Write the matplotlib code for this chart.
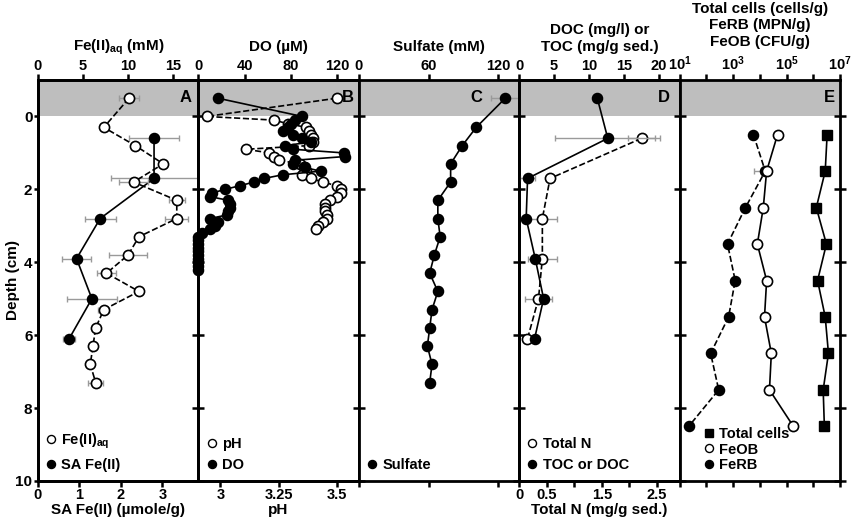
import matplotlib
matplotlib.use('Agg')
import matplotlib.pyplot as plt
from matplotlib.lines import Line2D

plt.rcParams['font.family'] = ['Liberation Sans', 'DejaVu Sans']
plt.rcParams['font.weight'] = 'bold'
plt.rcParams['mathtext.fontset'] = 'custom'
plt.rcParams['mathtext.rm'] = 'Liberation Sans:bold'
plt.rcParams['mathtext.it'] = 'Liberation Sans:bold'
plt.rcParams['mathtext.bf'] = 'Liberation Sans:bold'

# ---- panel A: Fe(II)
fe_depth = [-0.5, 0.3, 0.8, 1.3, 1.8, 2.3, 2.8, 3.3, 3.8, 4.3, 4.8, 5.3, 5.8, 6.3, 6.8, 7.3]
fe_aq = [10.1, 7.3, 10.8, 13.9, 10.6, 15.4, 15.4, 11.2, 10.0, 7.6, 11.2, 7.3, 6.4, 6.1, 5.8, 6.4]
fe_aq_err = [1.1, 0, 0, 0, 1.6, 0.9, 1.3, 0, 2.1, 1.1, 0, 0.6, 0, 0, 0, 0.8]
sa_depth = [0.6, 1.7, 2.8, 3.9, 5.0, 6.1]
sa_fe = [2.8, 2.8, 1.5, 0.93, 1.3, 0.75]
sa_err = [0.6, 1.05, 0.37, 0.35, 0.6, 0.15]

# ---- panel B: DO and pH
do_depth = [-0.5, 0.0, 0.1, 0.2, 0.3, 0.4, 0.5, 0.6, 0.7, 0.8, 0.9, 1.0, 1.1, 1.2, 1.3,
            1.4, 1.5, 1.6, 1.7, 1.8, 1.9, 2.0, 2.1, 2.2, 2.3, 2.4, 2.5, 2.6, 2.7, 2.8,
            2.9, 3.0, 3.1, 3.2, 3.3, 3.4, 3.5, 3.6, 3.7, 3.8, 3.9, 4.0, 4.1, 4.2]
do_um = [17, 90, 84, 80, 78, 73, 82, 90, 98, 75, 82, 126, 127, 84, 82,
         92, 106, 73, 57, 48, 36, 23, 12, 10, 26, 27, 27, 26, 25, 10,
         17, 14, 10, 3, 0, 0, 0, 0, 0, 0, 0, 0, 0, 0]
ph_depth = [-0.5, 0.0, 0.1, 0.2, 0.3, 0.4, 0.5, 0.6, 0.7, 0.8, 0.9, 1.0, 1.1, 1.2, 1.3,
            1.4, 1.5, 1.6, 1.7, 1.8, 1.9, 2.0, 2.1, 2.2, 2.3, 2.4, 2.5, 2.6, 2.7, 2.8,
            2.9, 3.0, 3.1]
ph = [3.50, 2.94, 3.23, 3.29, 3.37, 3.38, 3.39, 3.40, 3.40, 3.38, 3.11, 3.21, 3.23, 3.25, 3.34,
      3.36, 3.37, 3.35, 3.39, 3.44, 3.50, 3.52, 3.52, 3.50, 3.47, 3.45, 3.45, 3.45, 3.46, 3.46,
      3.44, 3.42, 3.41]

# ---- panel C: sulfate
so4_depth = [-0.5, 0.3, 0.8, 1.3, 1.8, 2.3, 2.8, 3.3, 3.8, 4.3, 4.8, 5.3, 5.8, 6.3, 6.8, 7.3]
so4 = [126, 101, 89, 79, 79, 68, 68, 70, 65, 61, 68, 63, 61, 59, 63, 61]
so4_err = [12, 0, 0, 0, 0, 0, 0, 0, 0, 0, 0, 0, 0, 0, 0, 0]

# ---- panel D: TOC / DOC and total N
toc_depth = [-0.5, 0.6, 1.7, 2.8, 3.9, 5.0, 6.1]
toc = [11.2, 12.7, 1.2, 1.0, 2.3, 3.5, 2.2]
toc_err = [0, 7.5, 1.1, 0, 0, 0, 0]
tn_depth = [0.6, 1.7, 2.8, 3.9, 5.0, 6.1]
total_n = [2.22, 0.56, 0.42, 0.42, 0.35, 0.15]
tn_err = [0.24, 0, 0.26, 0.26, 0.24, 0]

# ---- panel E: cell counts
cell_depth = [0.5, 1.5, 2.5, 3.5, 4.5, 5.5, 6.5, 7.5, 8.5]
ferb = [5.8e3, 1.6e4, 2.9e3, 6.2e2, 1.2e3, 6.8e2, 1.45e2, 2.9e2, 2.2e1]
feob = [4.6e4, 1.8e4, 1.35e4, 8.1e3, 1.8e4, 1.5e4, 2.7e4, 2.3e4, 1.8e5]
feob_err_lo = [0, 1.17e4, 0, 0, 0, 0, 0, 0, 0]
total_cells = [3.3e6, 2.8e6, 1.3e6, 3.1e6, 1.45e6, 2.8e6, 3.7e6, 2.35e6, 2.6e6]

GRAY = '#bebebe'
ECOL = '#9a9a9a'
MS = 7.3
FS = 10.5

fig = plt.figure(figsize=(8.51, 5.18), dpi=100)
W, H = 851.0, 518.0
x0, pw = 38.0, 160.4
ybot, ph_px = 37.0, 401.0


def panel(i):
    ax = fig.add_axes([(x0 + i * pw) / W, ybot / H, pw / W, ph_px / H])
    ax.axhspan(-1, 0, color=GRAY, lw=0, zorder=0)
    ax.set_ylim(10, -1)
    ax.set_yticks([0, 2, 4, 6, 8, 10])
    ax.tick_params(axis='y', direction='inout', length=8, width=1.8,
                   labelleft=(i == 0), labelsize=FS + 0.5, pad=1)
    if i == 0:
        ax.tick_params(axis='y', direction='out', length=3)
        ax.set_ylabel('Depth (cm)', fontsize=FS + 0.5, fontweight='bold')
        ax.yaxis.set_label_coords(-0.115, 0.5)
    if i == 4:
        ax.tick_params(axis='y', right=True)
    for s in ax.spines.values():
        s.set_linewidth(2.0)
    return ax


def style_x(a):
    a.tick_params(axis='x', direction='out', length=4, width=1.8,
                  labelsize=FS, pad=1)
    for s in a.spines.values():
        s.set_linewidth(2.0)


def letter(ax, t, x=0.955):
    ax.text(x, 0.975, t, transform=ax.transAxes, ha='right', va='top',
            fontsize=FS + 1.5, fontweight='bold', zorder=10)


def legend(ax, handles, labels, x=0.0, spacing=0.5):
    ax.legend(handles, labels, loc='lower left', bbox_to_anchor=(x, 0.0),
              frameon=False, fontsize=FS, handlelength=0.6, handletextpad=0.4,
              borderpad=0.2, borderaxespad=0.4, labelspacing=spacing)


def hnd(fc, marker='o'):
    return Line2D([], [], ls='none', marker=marker, ms=MS - 1.5, mfc=fc,
                  mec='black', mew=1.0)


eb = dict(fmt='none', ecolor=ECOL, elinewidth=1.0, capsize=2.5, capthick=1.0, zorder=2)

# ---------------- A
ax = panel(0)
axt = ax.twiny()
ax.set_xlim(0, 3.87)
axt.set_xlim(0, 17.8)
ax.set_xticks([0, 1, 2, 3])
axt.set_xticks([0, 5, 10, 15])
style_x(ax)
style_x(axt)
ax.set_xlabel('SA Fe(II) (µmole/g)', fontsize=FS + 0.5, fontweight='bold', labelpad=1)
axt.set_xlabel(r'Fe(II)$_{\rm aq}$ (mM)', fontsize=FS + 0.5, fontweight='bold', labelpad=6)
ax.errorbar(sa_fe, sa_depth, xerr=sa_err, **eb)
ax.plot(sa_fe, sa_depth, '-', color='black', lw=1.2, marker='o', ms=MS,
        mfc='black', mec='black', zorder=3)
axt.errorbar(fe_aq, fe_depth, xerr=fe_aq_err, **eb)
axt.plot(fe_aq, fe_depth, '--', color='black', lw=1.2, marker='o', ms=MS,
         mfc='white', mec='black', mew=1.2, zorder=3)
letter(ax, 'A')
legend(ax, [hnd('white'), hnd('black')], [r'Fe(II)$_{\rm aq}$', 'SA Fe(II)'])

# ---------------- B
ax = panel(1)
axt = ax.twiny()
ax.set_xlim(2.905, 3.595)
axt.set_xlim(0, 139)
ax.set_xticks([3, 3.25, 3.5])
ax.set_xticklabels(['3', '3.25', '3.5'])
axt.set_xticks([0, 40, 80, 120])
style_x(ax)
style_x(axt)
ax.set_xlabel('pH', fontsize=FS + 0.5, fontweight='bold', labelpad=1)
axt.set_xlabel('DO (µM)', fontsize=FS + 0.5, fontweight='bold', labelpad=6)
ax.plot(ph, ph_depth, '--', color='black', lw=1.2, marker='o', ms=MS,
        mfc='white', mec='black', mew=1.2, zorder=3)
axt.plot(do_um, do_depth, '-', color='black', lw=1.2, marker='o', ms=MS,
         mfc='black', mec='black', zorder=3, clip_on=False)
letter(ax, 'B', 0.97)
legend(ax, [hnd('white'), hnd('black')], ['pH', 'DO'])

# ---------------- C
ax = panel(2)
ax.set_xlim(0, 138)
ax.set_xticks([0, 60, 120])
ax.tick_params(axis='x', top=True, bottom=True, labeltop=True, labelbottom=False)
style_x(ax)
ax.xaxis.set_label_position('top')
ax.set_xlabel('Sulfate (mM)', fontsize=FS + 0.5, fontweight='bold', labelpad=6)
ax.errorbar(so4, so4_depth, xerr=so4_err, **eb)
ax.plot(so4, so4_depth, '-', color='black', lw=1.2, marker='o', ms=MS,
        mfc='black', mec='black', zorder=3)
letter(ax, 'C', 0.77)
legend(ax, [hnd('black')], ['Sulfate'])

# ---------------- D
ax = panel(3)
axt = ax.twiny()
ax.set_xlim(0, 2.91)
axt.set_xlim(0, 23.0)
ax.set_xticks([0, 0.5, 1.0, 1.5, 2.0, 2.5])
ax.set_xticklabels(['0', '0.5', '', '1.5', '', '2.5'])
axt.set_xticks([0, 5, 10, 15, 20])
style_x(ax)
style_x(axt)
ax.set_xlabel('Total N (mg/g sed.)', fontsize=FS + 0.5, fontweight='bold', labelpad=1)
axt.set_xlabel('DOC (mg/l) or\nTOC (mg/g sed.)', fontsize=FS + 0.5,
               fontweight='bold', labelpad=6, linespacing=1.25)
ax.errorbar(total_n, tn_depth, xerr=tn_err, **eb)
ax.plot(total_n, tn_depth, '--', color='black', lw=1.2, marker='o', ms=MS,
        mfc='white', mec='black', mew=1.2, zorder=4)
axt.errorbar(toc, toc_depth, xerr=toc_err, **eb)
axt.plot(toc, toc_depth, '-', color='black', lw=1.2, marker='o', ms=MS,
         mfc='black', mec='black', zorder=3)
letter(ax, 'D', 0.94)
legend(ax, [hnd('white'), hnd('black')], ['Total N', 'TOC or DOC'])

# ---------------- E
ax = panel(4)
ax.set_xscale('log')
ax.set_xlim(1e1, 1e7)
ax.set_xticks([10.0 ** k for k in range(1, 8)])
ax.set_xticklabels([r'$10^{%d}$' % k if k % 2 else '' for k in range(1, 8)])
ax.minorticks_off()
ax.tick_params(axis='x', which='minor', top=False, bottom=False)
ax.tick_params(axis='x', top=True, bottom=True, labeltop=True, labelbottom=False)
style_x(ax)
ax.xaxis.set_label_position('top')
ax.set_xlabel('Total cells (cells/g)\nFeRB (MPN/g)\nFeOB (CFU/g)', fontsize=FS + 0.5,
              fontweight='bold', labelpad=6, linespacing=1.25)
ax.errorbar(feob, cell_depth, xerr=[feob_err_lo, [0] * len(feob)], **eb)
ax.plot(ferb, cell_depth, '--', color='black', lw=1.2, marker='o', ms=MS,
        mfc='black', mec='black', zorder=3)
ax.plot(feob, cell_depth, '-', color='black', lw=1.2, marker='o', ms=MS,
        mfc='white', mec='black', mew=1.2, zorder=4)
ax.plot(total_cells, cell_depth, '-', color='black', lw=1.2, marker='s', ms=MS,
        mfc='black', mec='black', zorder=3)
letter(ax, 'E', 0.97)
legend(ax, [hnd('black', 's'), hnd('white'), hnd('black')],
       ['Total cells', 'FeOB', 'FeRB'], x=0.1, spacing=0.12)

fig.savefig('out.png', dpi=100)
